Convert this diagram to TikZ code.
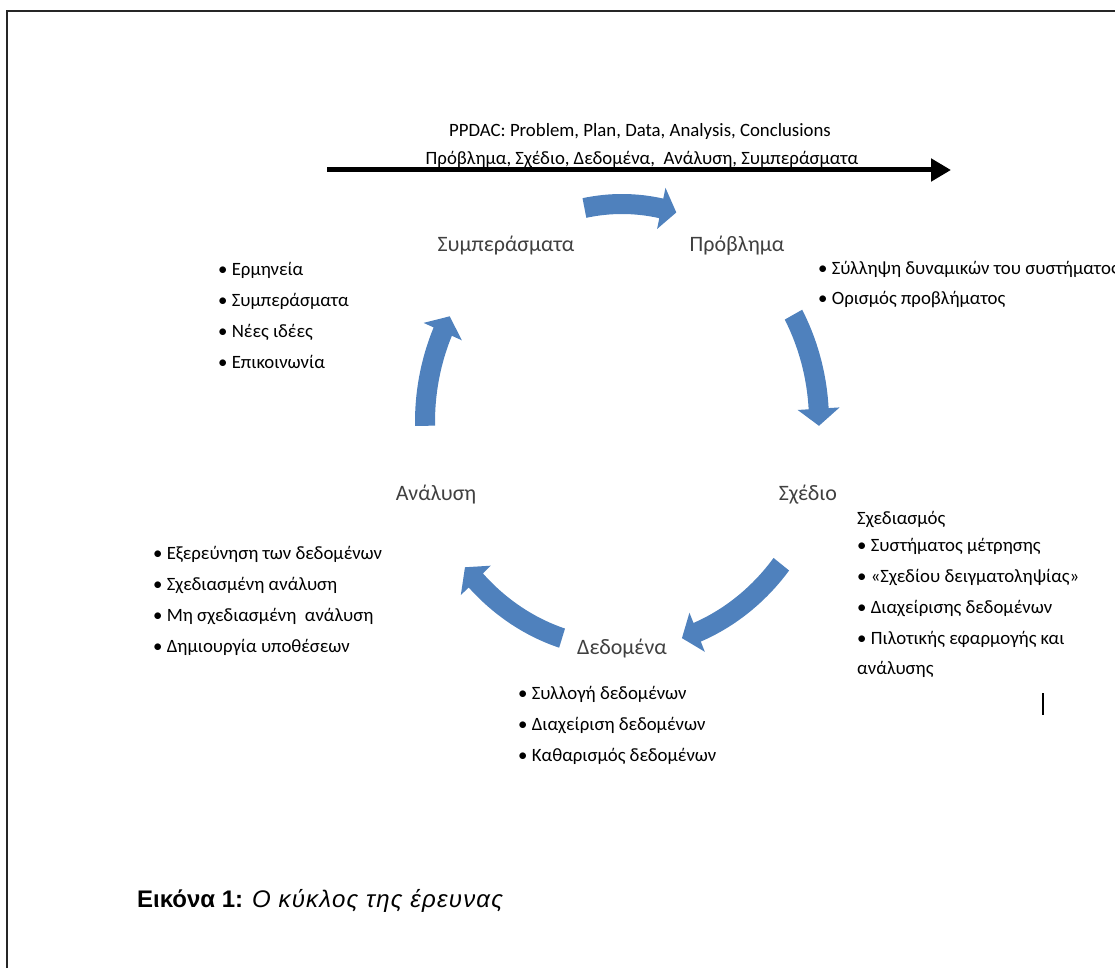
\documentclass[tikz,border=0pt]{standalone}
\usepackage{fontspec}
\setmainfont{Carlito}
\newfontfamily\capfont{Liberation Sans}
\usetikzlibrary{positioning,arrows.meta}
\definecolor{cycblue}{HTML}{4F81BD}
\definecolor{headgray}{HTML}{404040}

% curved block arrow on the cycle: tail angle, tip angle, x radius, y radius
\newcommand{\cyclearrow}[4]{%
  \pgfmathsetmacro\tbase{#2-4.5}%
  \pgfmathsetmacro\rxo{#3+10}\pgfmathsetmacro\ryo{#4+10}%
  \pgfmathsetmacro\rxi{#3-10}\pgfmathsetmacro\ryi{#4-10}%
  \pgfmathsetmacro\rxh{#3+21}\pgfmathsetmacro\ryh{#4+21}%
  \pgfmathsetmacro\rxl{#3-21}\pgfmathsetmacro\ryl{#4-21}%
  \fill[cycblue] ([shift={({#1}:{\rxo} and {\ryo})}]cc)
    arc[start angle=#1, end angle=\tbase, x radius=\rxo, y radius=\ryo]
    -- ([shift={({\tbase}:{\rxh} and {\ryh})}]cc)
    -- ([shift={({#2}:{#3} and {#4})}]cc)
    -- ([shift={({\tbase}:{\rxl} and {\ryl})}]cc)
    -- ([shift={({\tbase}:{\rxi} and {\ryi})}]cc)
    arc[start angle=\tbase, end angle=#1, x radius=\rxi, y radius=\ryi] -- cycle;}

\begin{document}
\begin{tikzpicture}[x=1pt, y=-1pt, font=\fontsize{18.8}{20}\selectfont,
  stage/.style={text=headgray, font=\fontsize{22}{24}\selectfont},
  item/.style={anchor=base west, inner sep=0pt}]
\useasboundingbox (0,0) rectangle (1115,968);
\draw[line width=2pt, black!85] (7,968) -- (7,11) -- (1115,11);

% timeline on top
\coordinate (tl0) at (327,170);
\coordinate (tl1) at (951,170);
\draw[line width=5pt, -{Triangle[length=20pt,width=22pt]}] (tl0) -- (tl1);
\node[anchor=base] (ppdac) at (640,137) {PPDAC: Problem, Plan, Data, Analysis, Conclusions};
\node[anchor=base] (ppdacgr) at (642,165) {Πρόβλημα, Σχέδιο, Δεδομένα,\ \ Ανάλυση, Συμπεράσματα};

% the cycle
\coordinate (cc) at (622,422);
\foreach \ta/\tb/\rx/\ry in {-101/-74/197/218, -29.5/1/197/218, 39/73/205/226,
    107/140/205/226, 179/209/197/218}
  {\cyclearrow{\ta}{\tb}{\rx}{\ry}}

\node[stage] (con) at (506,246) {Συμπεράσματα};
\node[stage] (prob) at (737,246) {Πρόβλημα};
\node[stage] (plan) at (808,495) {Σχέδιο};
\node[stage] (ana) at (436,495) {Ανάλυση};
\node[stage] (dat) at (622,649) {Δεδομένα};

% bullet lists
\foreach \t [count=\i] in {Ερμηνεία, Συμπεράσματα, Νέες ιδέες, Επικοινωνία}
  \node[item] (con\i) at (218,244+31*\i) {• \t};
\foreach \t [count=\i] in {Σύλληψη δυναμικών του συστήματος, Ορισμός προβλήματος}
  \node[item] (prob\i) at (818,244+30*\i) {• \t};
\node[item] (plan0) at (857,524) {Σχεδιασμός};
\foreach \t [count=\i] in {Συστήματος μέτρησης, «Σχεδίου δειγματοληψίας»,
    Διαχείρισης δεδομένων, Πιλοτικής εφαρμογής και}
  \node[item] (plan\i) at (857,520+31*\i) {• \t};
\node[item] (plan5) at (857,674) {ανάλυσης};
\foreach \t [count=\i] in {Εξερεύνηση των δεδομένων, Σχεδιασμένη ανάλυση,
    Μη σχεδιασμένη\ \ ανάλυση, Δημιουργία υποθέσεων}
  \node[item] (ana\i) at (153,528+31*\i) {• \t};
\foreach \t [count=\i] in {Συλλογή δεδομένων, Διαχείριση δεδομένων, Καθαρισμός δεδομένων}
  \node[item] (dat\i) at (518,668+31*\i) {• \t};

\draw[line width=2.5pt] (1043,693) -- (1043,715);

\node[item, font=\capfont\fontsize{24}{26}\selectfont] (cap) at (137,907)
  {\textbf{Εικόνα 1:} \textit{\addfontfeature{LetterSpace=5}Ο κύκλος της έρευνας}};
\end{tikzpicture}
\end{document}
